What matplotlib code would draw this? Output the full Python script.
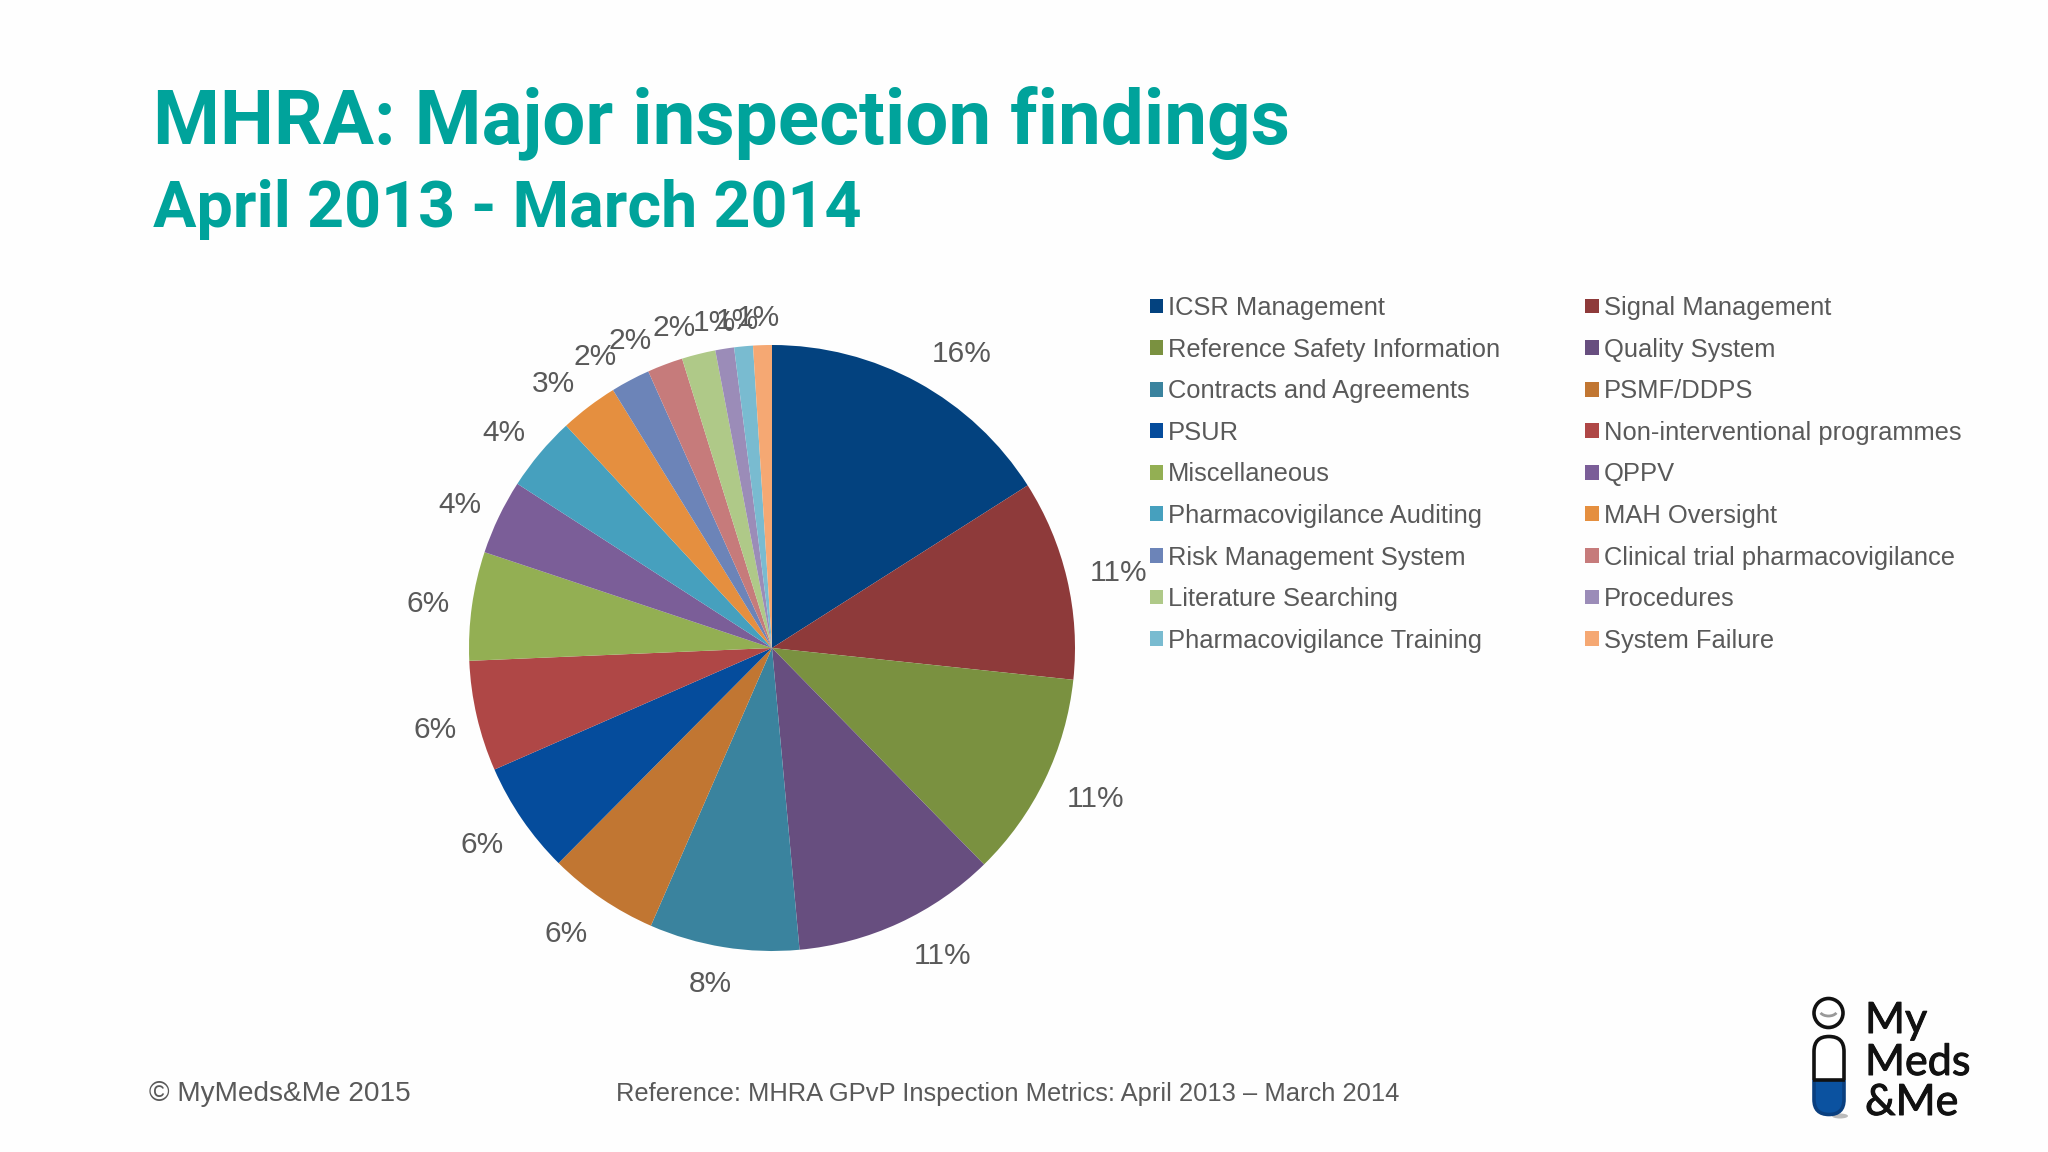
import matplotlib
matplotlib.use("Agg")
import matplotlib.pyplot as plt
import matplotlib.patheffects as pe
from matplotlib.patches import Circle, FancyBboxPatch, Rectangle, Ellipse, Arc

categories = ["ICSR Management", "Signal Management", "Reference Safety Information", "Quality System",
              "Contracts and Agreements", "PSMF/DDPS", "PSUR", "Non-interventional programmes",
              "Miscellaneous", "QPPV", "Pharmacovigilance Auditing", "MAH Oversight",
              "Risk Management System", "Clinical trial pharmacovigilance", "Literature Searching",
              "Procedures", "Pharmacovigilance Training", "System Failure"]
shares = [16.0, 10.7, 11.0, 10.9, 8.0, 5.9, 6.0, 5.9, 5.8, 4.0, 4.0, 3.1, 2.1, 1.9, 1.8, 1.0, 1.0, 1.0]
pct_labels = ["16%", "11%", "11%", "11%", "8%", "6%", "6%", "6%", "6%", "4%", "4%", "3%", "2%", "2%", "2%", "1%", "1%", "1%"]
colors = ["#03427F", "#8E3A3A", "#7A9140", "#674E7F", "#3A839E", "#C17632", "#054C9C", "#AF4746", "#93AF53",
          "#7B5E98", "#46A0BE", "#E58F3F", "#6C84B8", "#C67B7B", "#AFC988", "#9B8CB8", "#79BBD0", "#F5A873"]
# layout: pixel nudges of each percentage label from its default pie position
label_nudges = [(21, 13), (6, 5), (8, -1), (24, -10), (-6, -9), (-9, -4), (-1, -1), (4, 3), (3, 5),
                (3, 8), (0, 10), (-7, 15), (-13, 18), (-18, 20), (-13, 20), (-3, 21), (-2, 21), (-3, 20)]

W, H = 2048, 1152
GREY = "#595959"
TEAL = "#00A39B"
plt.rcParams['font.family'] = ['Liberation Sans', 'DejaVu Sans']

fig = plt.figure(figsize=(W/100, H/100), dpi=100, facecolor="#FEFEFE")

# pie axes: centre (772, 648), radius 303 px, limits +-1.5
cx, cy, r = 772, 648, 303
half = r * 1.5
ax = fig.add_axes([(cx-half)/W, 1-(cy+half)/H, 2*half/W, 2*half/H])
wedges, texts = ax.pie(shares, colors=colors, startangle=90, counterclock=False, radius=1,
                       labels=pct_labels, labeldistance=1.155,
                       textprops=dict(fontsize=21.5, color=GREY, ha="center", va="center"))
ax.set_xlim(-1.5, 1.5); ax.set_ylim(-1.5, 1.5)
for t, (dx, dy) in zip(texts, label_nudges):
    x, y = t.get_position()
    t.set_position((x + dx / r, y - dy / r))

leg = fig.legend(wedges[::2] + wedges[1::2], categories[::2] + categories[1::2], ncol=2,
                 loc="upper left", bbox_to_anchor=(1150/W, 1-296/H), frameon=False,
                 fontsize=18.35, labelcolor=GREY, handlelength=0.52, handleheight=0.52,
                 handletextpad=0.2, columnspacing=3.33, labelspacing=0.69, borderpad=0, borderaxespad=0)

# pixel overlay for titles, footer and logo
ov = fig.add_axes([0, 0, 1, 1], facecolor="none")
ov.set_xlim(0, W); ov.set_ylim(H, 0); ov.axis("off")
ov.text(153, 143, "MHRA: Major inspection findings", color=TEAL, fontsize=55, family="Roboto", fontweight="bold", va="baseline", ha="left")
ov.text(153, 227, "April 2013 - March 2014", color=TEAL, fontsize=46.5, family="Roboto", fontweight="bold", va="baseline", ha="left")
ov.text(149, 1094, "© MyMeds&Me 2015", color=GREY, fontsize=20.2, va="center", ha="left")
ov.text(616, 1094, "Reference: MHRA GPvP Inspection Metrics: April 2013 – March 2014", color=GREY, fontsize=18.4, va="center", ha="left")

# logo
ov.add_patch(Circle((1828.5, 1013), 14.5, fc="white", ec="#111111", lw=2.6))
ov.add_patch(Arc((1828.5, 1010), 18, 12, theta1=20, theta2=160, ec="#999999", lw=2))
ov.add_patch(Ellipse((1840, 1116), 16, 5, fc="#BBBBBB", ec="none"))
upper = FancyBboxPatch((1814, 1036.5), 30, 78, boxstyle="round,pad=0,rounding_size=15", fc="white", ec="#111111", lw=2.6)
ov.add_patch(upper)
upper.set_clip_path(Rectangle((1800, 1020), 60, 60, transform=ov.transData))
lower = FancyBboxPatch((1814, 1036.5), 30, 78, boxstyle="round,pad=0,rounding_size=15", fc="#0B52A0", ec="#0A3F7F", lw=2.6)
ov.add_patch(lower)
lower.set_clip_path(Rectangle((1800, 1080), 60, 50, transform=ov.transData))
ov.plot([1813, 1845], [1080, 1080], color="#111111", lw=2.6, solid_capstyle="butt")
for s, y in zip(["My", "Meds", "&Me"], [1033, 1075, 1115]):
    ov.text(1865, y, s, color="#111111", fontsize=31, family="Lato", va="baseline", ha="left",
            path_effects=[pe.withStroke(linewidth=0.7, foreground="#111111")])

fig.savefig("out.png", dpi=100, facecolor=fig.get_facecolor())
